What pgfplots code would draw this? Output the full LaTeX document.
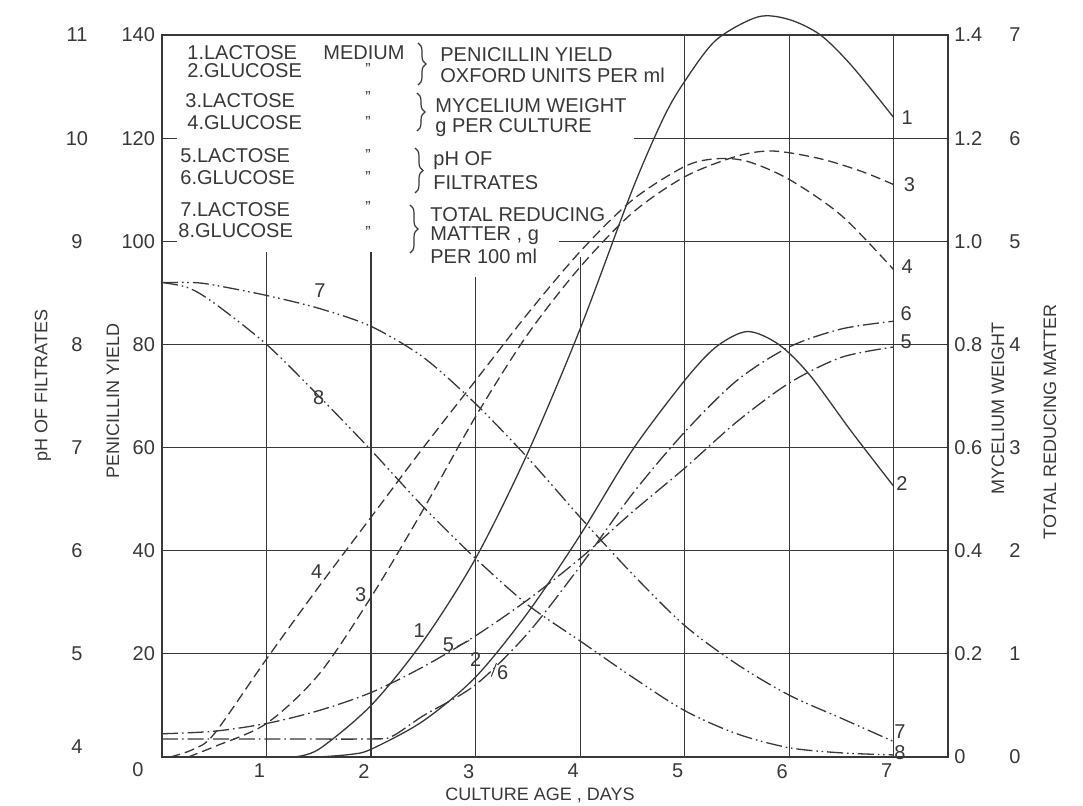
\documentclass[border=0pt]{standalone}
\usepackage{fontspec}
\setmainfont{Liberation Sans}
\usepackage{pgfplots}
\pgfplotsset{compat=1.18}
\usetikzlibrary{decorations.pathreplacing}
\definecolor{ink}{HTML}{383838}

\pgfplotstableread{
x y
1.25 0
1.5 1.5
2 10
2.5 22.5
3 38.5
3.5 59
4 83
4.5 110
4.8 124
5 131
5.3 139
5.7 143.5
6.0 143
6.3 140
6.6 134
7 124
}\curveA
\pgfplotstableread{
x y
1.5 0
1.8 0.5
2 1.5
2.5 7
3 15.5
3.5 28
4 43
4.5 59.5
5 73
5.3 79.5
5.6 82.5
5.9 80
6.2 74
6.6 63
7 52.5
}\curveB
\pgfplotstableread{
x y
0.25 0
0.5 2
1 6.5
1.5 16
2 31
2.5 48
3 66
3.5 82
4 95
4.5 105.5
5 112.5
5.5 116.5
5.85 117.5
6.3 116
6.7 113.5
7 111
}\curveC
\pgfplotstableread{
x y
0.08 0
0.3 1.5
0.5 4.5
1 19
1.5 33
2 46.5
2.5 60
3 73
3.5 86
4 98
4.5 108
5 114.5
5.3 116
5.6 115.5
6 112
6.5 105
7 94.5
}\curveD
\pgfplotstableread{
x y
0 4.5
0.5 5
1 6.5
1.5 9
2 12.5
2.5 17.5
3 23.5
3.5 30.5
4 38.5
4.5 47.5
5 56
5.5 65
6 72.5
6.5 77.5
7 79.5
}\curveE
\pgfplotstableread{
x y
0 3.5
1 3.5
2 3.5
2.2 4
2.5 8
3 14
3.5 24
4 37
4.5 51
5 63
5.5 73
6 79.5
6.5 83
7 84.5
}\curveF
\pgfplotstableread{
x y
0 92
0.3 92
0.5 91.5
1 89.5
1.5 87
2 83.5
2.5 77.5
3 68.5
3.5 58
4 46.5
4.5 35.5
5 25.5
5.5 18
6 12
6.5 7.5
7 3
}\curveG
\pgfplotstableread{
x y
0 92
0.25 91
0.5 88
1 80
1.5 70
2 59.5
2.5 48.5
3 38.5
3.5 29.5
4 22.5
4.5 15.5
5 9
5.5 4.5
6 1.8
6.5 0.8
7 0.4
}\curveH

\tikzset{
  gridl/.style={ink, line width=0.55pt},
  crv/.style={ink, line width=0.65pt, smooth, mark=none},
  dsh/.style={dash pattern=on 5pt off 2.5pt},
  dd/.style={dash pattern=on 8pt off 2pt on 0.8pt off 2pt},
  ddd/.style={dash pattern=on 8pt off 2pt on 0.8pt off 1.8pt on 0.8pt off 2pt},
}

\begin{document}
\begin{tikzpicture}[font=\fontsize{10}{12}\selectfont, color=ink, text=ink]
\begin{axis}[
  scale only axis, width=393pt, height=361pt,
  xmin=0, xmax=7.52, ymin=0, ymax=140,
  clip=false,
  axis line style={ink, line width=0.7pt},
  xtick={1,...,7}, ytick={20,40,...,140},
  major tick length=0pt,
  /pgf/number format/assume math mode=true,
  tick label style={font=\fontsize{10}{12}\selectfont, text=ink},
  xticklabel style={xshift=-3.5pt},
]
% grid lines
\draw[gridl] (axis cs:0,20) -- (axis cs:7.52,20);
\draw[gridl] (axis cs:0,40) -- (axis cs:7.52,40);
\draw[gridl] (axis cs:0,60) -- (axis cs:7.52,60);
\draw[gridl] (axis cs:0,80) -- (axis cs:7.52,80);
\draw[gridl] (axis cs:3.8,100) -- (axis cs:7.52,100);
\draw[gridl] (axis cs:4.52,120) -- (axis cs:7.52,120);
\draw[gridl] (axis cs:0,100) -- (axis cs:0.14,100);
\draw[gridl] (axis cs:0,120) -- (axis cs:0.14,120);
\draw[gridl] (axis cs:1,0) -- (axis cs:1,98);
\draw[gridl] (axis cs:2,0) -- (axis cs:2,98);
\draw[gridl] (axis cs:3,0) -- (axis cs:3,93);
\draw[gridl] (axis cs:4,0) -- (axis cs:4,97);
\draw[gridl] (axis cs:5,0) -- (axis cs:5,140);
\draw[gridl] (axis cs:6,0) -- (axis cs:6,140);
\draw[gridl] (axis cs:7,0) -- (axis cs:7,140);

\addplot[crv] table {\curveA};
\addplot[crv] table {\curveB};
\addplot[crv, dsh] table {\curveC};
\addplot[crv, dsh] table {\curveD};
\addplot[crv, dd] table {\curveE};
\addplot[crv, dd] table {\curveF};
\addplot[crv, ddd] table {\curveG};
\addplot[crv, ddd] table {\curveH};

% curve labels at the ends
\node at (axis cs:7.13,124) {1};
\node at (axis cs:7.15,111) {3};
\node at (axis cs:7.13,95) {4};
\node at (axis cs:7.12,86) {6};
\node at (axis cs:7.12,80.5) {5};
\node at (axis cs:7.08,53) {2};
\node at (axis cs:7.06,5) {7};
\node at (axis cs:7.06,0.8) {8};
% inner labels
\node at (axis cs:1.51,90.5) {7};
\node at (axis cs:1.5,69.6) {8};
\node at (axis cs:1.48,36) {4};
\node at (axis cs:1.9,31.4) {3};
\node at (axis cs:2.46,24.5) {1};
\node at (axis cs:2.74,21.8) {5};
\draw[line width=0.5pt] (axis cs:2.82,21.4) -- (axis cs:2.94,22.6);
\node at (axis cs:3.0,19) {2};
\node at (axis cs:3.26,16.3) {6};
\draw[line width=0.5pt] (axis cs:3.15,15.6) -- (axis cs:3.2,18.2);

% left outer scale (pH) and corner zero
\node at ([xshift=-42.5pt,yshift=5pt]axis cs:0,0) {4};
\node at ([xshift=-42.5pt]axis cs:0,20) {5};
\node at ([xshift=-42.5pt]axis cs:0,40) {6};
\node at ([xshift=-42.5pt]axis cs:0,60) {7};
\node at ([xshift=-42.5pt]axis cs:0,80) {8};
\node at ([xshift=-42.5pt]axis cs:0,100) {9};
\node at ([xshift=-42.5pt]axis cs:0,120) {10};
\node at ([xshift=-42.5pt]axis cs:0,140) {11};
\node at ([xshift=-12pt,yshift=-6.5pt]axis cs:0,0) {0};
% right scales
\node[anchor=west, inner sep=0pt] at ([xshift=3pt]axis cs:7.52,0) {0};
\node[anchor=west, inner sep=0pt] at ([xshift=3pt]axis cs:7.52,20) {0.2};
\node[anchor=west, inner sep=0pt] at ([xshift=3pt]axis cs:7.52,40) {0.4};
\node[anchor=west, inner sep=0pt] at ([xshift=3pt]axis cs:7.52,60) {0.6};
\node[anchor=west, inner sep=0pt] at ([xshift=3pt]axis cs:7.52,80) {0.8};
\node[anchor=west, inner sep=0pt] at ([xshift=3pt]axis cs:7.52,100) {1.0};
\node[anchor=west, inner sep=0pt] at ([xshift=3pt]axis cs:7.52,120) {1.2};
\node[anchor=west, inner sep=0pt] at ([xshift=3pt]axis cs:7.52,140) {1.4};
\node at ([xshift=33.5pt]axis cs:7.52,0) {0};
\node at ([xshift=33.5pt]axis cs:7.52,20) {1};
\node at ([xshift=33.5pt]axis cs:7.52,40) {2};
\node at ([xshift=33.5pt]axis cs:7.52,60) {3};
\node at ([xshift=33.5pt]axis cs:7.52,80) {4};
\node at ([xshift=33.5pt]axis cs:7.52,100) {5};
\node at ([xshift=33.5pt]axis cs:7.52,120) {6};
\node at ([xshift=33.5pt]axis cs:7.52,140) {7};
% axis titles
\node[rotate=90, font=\fontsize{9}{11}\selectfont] at ([xshift=-59.5pt]axis cs:0,72) {pH OF FILTRATES};
\node[rotate=90, font=\fontsize{9}{11}\selectfont] at ([xshift=-24.5pt]axis cs:0,69) {PENICILLIN YIELD};
\node[rotate=90, font=\fontsize{9}{11}\selectfont] at ([xshift=25pt]axis cs:7.52,67.6) {MYCELIUM WEIGHT};
\node[rotate=90, font=\fontsize{9}{11}\selectfont] at ([xshift=51pt]axis cs:7.52,65) {TOTAL REDUCING MATTER};
\node[font=\fontsize{9}{11}\selectfont] at ([xshift=189pt,yshift=-19pt]rel axis cs:0,0) {CULTURE AGE , DAYS};

\coordinate (TL) at (rel axis cs:0,1);
\coordinate (SW) at (rel axis cs:0,0);
\coordinate (NE) at (rel axis cs:1,1);
\end{axis}

% key block
\begin{scope}[every node/.style={anchor=west, inner sep=0pt}]
\node at ([shift={(12.5pt,-9pt)}]TL) {1.LACTOSE};
\node at ([shift={(80.5pt,-9pt)}]TL) {MEDIUM};
\node at ([shift={(12.5pt,-18pt)}]TL) {2.GLUCOSE};
\node at ([shift={(11.5pt,-33pt)}]TL) {3.LACTOSE};
\node at ([shift={(12.5pt,-44pt)}]TL) {4.GLUCOSE};
\node at ([shift={(9pt,-60.5pt)}]TL) {5.LACTOSE};
\node at ([shift={(9pt,-71.5pt)}]TL) {6.GLUCOSE};
\node at ([shift={(9pt,-87.5pt)}]TL) {7.LACTOSE};
\node at ([shift={(8pt,-98pt)}]TL) {8.GLUCOSE};
\end{scope}
\begin{scope}[every node/.style={inner sep=0pt, font=\fontsize{8}{8}\selectfont}]
\node at ([shift={(103pt,-17pt)}]TL) {\symbol{"22}};
\node at ([shift={(103pt,-31pt)}]TL) {\symbol{"22}};
\node at ([shift={(103pt,-43.5pt)}]TL) {\symbol{"22}};
\node at ([shift={(103pt,-60pt)}]TL) {\symbol{"22}};
\node at ([shift={(103pt,-71pt)}]TL) {\symbol{"22}};
\node at ([shift={(103pt,-86pt)}]TL) {\symbol{"22}};
\node at ([shift={(103pt,-98.5pt)}]TL) {\symbol{"22}};
\end{scope}
\begin{scope}[every node/.style={anchor=west, inner sep=0pt}]
\node at ([shift={(139pt,-10pt)}]TL) {PENICILLIN YIELD};
\node at ([shift={(139pt,-20pt)}]TL) {OXFORD UNITS PER ml};
\node at ([shift={(136.5pt,-35.5pt)}]TL) {MYCELIUM WEIGHT};
\node at ([shift={(136.5pt,-46.5pt)}]TL) {g PER CULTURE};
\node at ([shift={(135.5pt,-63pt)}]TL) {pH OF};
\node at ([shift={(135.5pt,-74pt)}]TL) {FILTRATES};
\node at ([shift={(134pt,-90pt)}]TL) {TOTAL REDUCING};
\node at ([shift={(134pt,-100.5pt)}]TL) {MATTER , g};
\node at ([shift={(134pt,-110.5pt)}]TL) {PER 100 ml};
\end{scope}
\begin{scope}[decoration={brace, amplitude=4pt}, line width=0.6pt]
\draw[decorate] ([shift={(128pt,-4pt)}]TL) -- ([shift={(128pt,-25pt)}]TL);
\draw[decorate] ([shift={(127.5pt,-29pt)}]TL) -- ([shift={(127.5pt,-48pt)}]TL);
\draw[decorate] ([shift={(126.5pt,-56.5pt)}]TL) -- ([shift={(126.5pt,-79pt)}]TL);
\draw[decorate] ([shift={(124pt,-85pt)}]TL) -- ([shift={(124pt,-109pt)}]TL);
\end{scope}

\pgfresetboundingbox
\path ([shift={(-81pt,-24pt)}]SW) rectangle ([shift={(67.5pt,17.5pt)}]NE);
\end{tikzpicture}
\end{document}
